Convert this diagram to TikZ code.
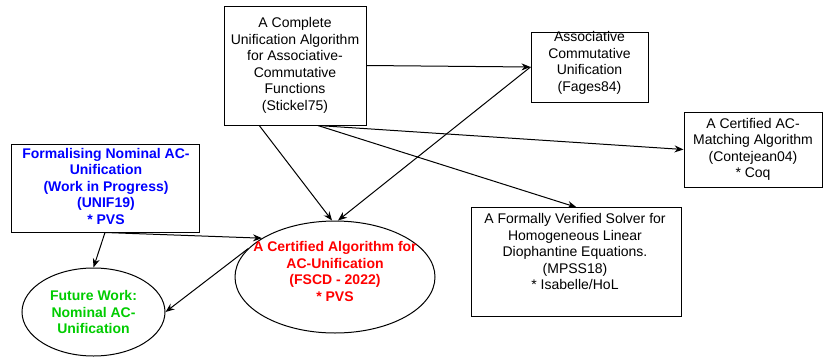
\documentclass[tikz,border=0pt]{standalone}
\usepackage{fontspec}
\setmainfont{Liberation Sans}
\usetikzlibrary{arrows.meta,shapes.geometric,calc}
\definecolor{fwblue}{RGB}{0,0,255}
\definecolor{fwred}{RGB}{255,0,0}
\definecolor{fwgreen}{RGB}{0,204,0}
\begin{document}
\begin{tikzpicture}[x=1pt,y=-1pt,
  every node/.style={font=\fontsize{14}{16.5}\selectfont, align=center, inner sep=0pt},
  box/.style={draw, line width=1pt, rectangle},
  oval/.style={draw, line width=1pt, ellipse},
  conn/.style={line width=1pt, -{Stealth[length=9pt,width=7pt]}}]
\useasboundingbox (0,0) rectangle (824,362);

% boxes
\node[box, minimum width=142pt, minimum height=119pt] (stickel) at (295,65.5)
  {A Complete\\Unification Algorithm\\for Associative-\\Commutative\\Functions\\(Stickel75)};
\node[box, minimum width=117pt, minimum height=70pt] (fages) at (589.5,67) {};
\node (fagestxt) at (589.5,63) {Associative\\Commutative\\Unification\\(Fages84)};
\node[box, minimum width=138pt, minimum height=75pt] (conte) at (753,149.5)
  {A Certified AC-\\Matching Algorithm\\(Contejean04)\\* Coq};
\node[box, minimum width=210pt, minimum height=109pt] (mpss) at (576.5,262.3) {};
\node (mpsstxt) at (575,251.5) {A Formally Verified Solver for\\Homogeneous Linear\\Diophantine Equations.\\(MPSS18)\\* Isabelle/HoL};
\node[box, minimum width=188pt, minimum height=88pt] (unif) at (105,188) {};
\node[text=fwblue, font=\fontsize{14}{16.5}\selectfont\bfseries] (uniftxt) at (106,186)
  {Formalising Nominal AC-\\Unification\\(Work in Progress)\\(UNIF19)\\* PVS};

% ellipses
\node[oval, minimum width=200pt, minimum height=112pt] (red) at (335,277) {};
\node[text=fwred, font=\fontsize{14}{16.5}\selectfont\bfseries] (redtxt) at (335,271.5)
  {A Certified Algorithm for\\AC-Unification\\(FSCD - 2022)\\* PVS};
\node[oval, minimum width=143pt, minimum height=88pt, text=fwgreen, font=\fontsize{14}{16.5}\selectfont\bfseries] (green) at (93.5,312)
  {Future Work:\\Nominal AC-\\Unification};

% connectors
\coordinate (sb1) at ($(stickel.south west)!0.25!(stickel.south east)$);
\coordinate (sb2) at ($(stickel.south west)!0.66!(stickel.south east)$);
\draw[conn] (stickel.east) -- (fages.west);
\draw[conn] (sb1) -- (red.93);
\draw[conn] (sb2) -- (conte.west);
\draw[conn] (sb2) -- (mpss.north);
\draw[conn] (fages.west) -- (red.87);
\draw[conn] (unif.south) -- (green.north);
\draw[conn] (unif.south) -- (red.152);
\draw[conn] (red.162) -- (green.east);
\end{tikzpicture}
\end{document}
